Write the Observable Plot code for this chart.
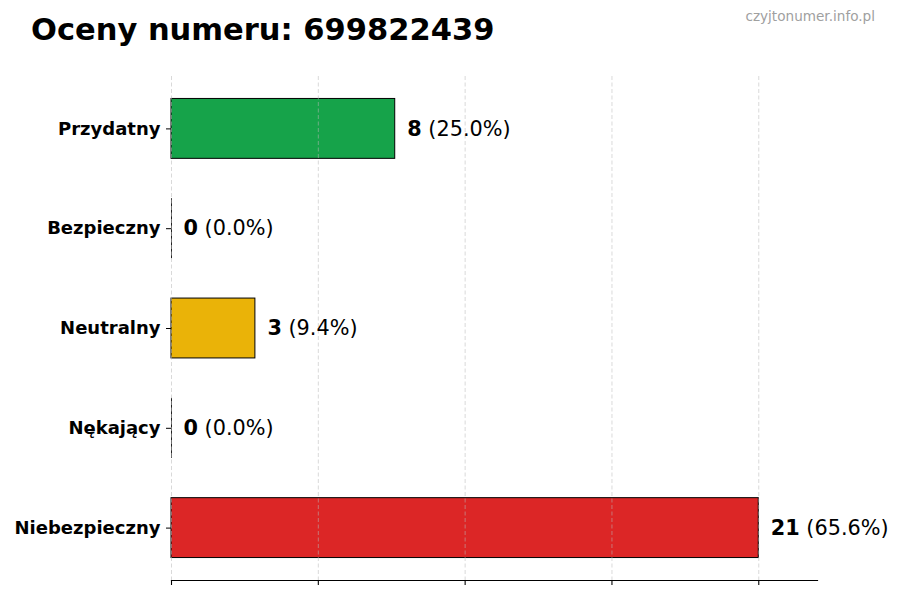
<!DOCTYPE html>
<html>
<head>
<meta charset="utf-8">
<script src="https://cdn.jsdelivr.net/npm/d3@7"></script>
<script src="https://cdn.jsdelivr.net/npm/@observablehq/plot@0.6"></script>
<style>
  html, body { margin: 0; padding: 0; background: #fff; }
  #wrap { position: relative; width: 900px; height: 600px; font-family: "DejaVu Sans", sans-serif; }
  #title { position: absolute; left: 31px; top: 15px; font-size: 30.5px; line-height: 30px; font-weight: bold; color: #000; white-space: nowrap; }
  #site { position: absolute; right: 25px; top: 9px; font-size: 13.6px; line-height: 14px; color: #a0a0a0; white-space: nowrap; }
  #chart { position: absolute; left: 0; top: 0; }
</style>
</head>
<body>
<div id="wrap">
  <div id="chart"></div>
  <div id="title">Oceny numeru: 699822439</div>
  <div id="site">czyjtonumer.info.pl</div>
</div>
<script>
const categories = ["Przydatny", "Bezpieczny", "Neutralny", "Nękający", "Niebezpieczny"];
const counts = [8, 0, 3, 0, 21];
const colors = ["#16a34a", "#2563eb", "#eab308", "#f97316", "#dc2626"];
const xTicks = [0, 5.25, 10.5, 15.75, 21];

const total = d3.sum(counts);
const data = categories.map((c, i) => ({
  name: c,
  value: counts[i],
  color: colors[i],
  label: `${counts[i]} (${(counts[i] / total * 100).toFixed(1)}%)`
}));
const xMax = d3.max(counts) * 1.1;

const chart = Plot.plot({
  width: 900,
  height: 600,
  marginLeft: 171,
  marginRight: 83,
  marginTop: 76,
  marginBottom: 20,
  style: { fontFamily: "DejaVu Sans, sans-serif", background: "transparent", overflow: "visible" },
  x: { domain: [0, xMax], ticks: xTicks, axis: null, label: null },
  y: { domain: categories, paddingInner: 0.4, paddingOuter: 0.225, round: false, axis: null, label: null },
  marks: [
    Plot.barX(data, { y: "name", x1: 0, x2: "value", fill: "color", stroke: "#000", strokeWidth: 1 }),
    Plot.tickX(data.filter(d => d.value === 0), { x: "value", y: "name", stroke: "#222", strokeWidth: 1 }),
    Plot.gridX(xTicks, { stroke: "#b8b8b8", strokeOpacity: 0.6, strokeDasharray: "4,2.5", strokeWidth: 0.9 }),
    Plot.frame({ anchor: "bottom", stroke: "#000", strokeWidth: 1.2 }),
    Plot.axisX({ ticks: xTicks, tickSize: 5, tickFormat: () => "", stroke: "#000", strokeWidth: 1.1, label: null }),
    Plot.axisY({ tickSize: 5, tickPadding: 6, fontSize: 18, fontWeight: "bold", fill: "#000", stroke: "#000", label: null }),
    Plot.text(data, { x: "value", y: "name", text: "label", dx: 12, textAnchor: "start", fontSize: 20.8, fill: "#000" })
  ]
});

document.getElementById("chart").appendChild(chart);

// split each value label into a bold count and a regular percentage
d3.select(chart).selectAll("text").each(function () {
  const t = d3.select(this);
  const s = t.text();
  if (!/^\d+ \(/.test(s)) return;
  const k = s.indexOf(" ");
  t.text(null);
  t.append("tspan").attr("font-weight", "bold").text(s.slice(0, k));
  t.append("tspan").attr("font-weight", "normal").text(s.slice(k));
});
</script>
</body>
</html>
